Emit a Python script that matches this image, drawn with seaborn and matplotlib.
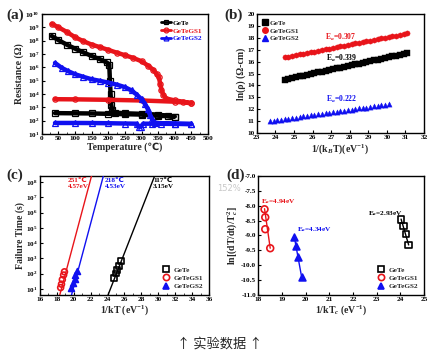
import numpy as np
import pandas as pd
import matplotlib
matplotlib.use('Agg')
import matplotlib.pyplot as plt
import seaborn as sns
from matplotlib.lines import Line2D
from matplotlib.ticker import LogLocator, MultipleLocator, NullLocator, FormatStrFormatter

# ---------------- data ----------------
# (a) resistance vs temperature (heating then cooling)
gete_T = [30, 50, 75, 100, 125, 150, 175, 195, 203, 205, 207, 209, 212, 220, 250, 300, 350, 380, 400,
          400, 350, 300, 250, 200, 150, 100, 40]
gete_R = [2.2e8, 1.1e8, 5.0e7, 2.5e7, 1.3e7, 7.0e6, 4.0e6, 2.3e6, 1.6e6, 1.0e5, 1.0e4, 1.5e3, 6.0e2, 4.0e2,
          3.5e2, 3.2e2, 2.8e2, 2.2e2, 2.0e2, 2.0e2, 2.3e2, 2.8e2, 3.0e2, 3.2e2, 3.4e2, 3.5e2, 3.6e2]
gs1_T = [30, 50, 75, 100, 125, 150, 175, 200, 225, 250, 275, 300, 320, 335, 345, 352, 356, 360, 366, 375,
         400, 425, 450, 450, 400, 300, 200, 100, 40]
gs1_R = [1.8e9, 1.0e9, 4.5e8, 1.8e8, 9e7, 5e7, 3.2e7, 2e7, 1.25e7, 8e6, 5e6, 2.8e6, 1.3e6, 6.5e5, 3.2e5,
         1.8e5, 6e4, 2e4, 8e3, 4.5e3, 3.2e3, 2.6e3, 2e3, 2e3, 2.6e3, 3.2e3, 3.6e3, 3.9e3, 4e3]
gs2_T = [40, 60, 80, 100, 125, 150, 175, 200, 225, 250, 270, 285, 300, 310, 318, 325, 332, 340, 360, 400,
         450, 450, 400, 330, 305, 298, 292, 285, 250, 200, 150, 100, 40]
gs2_R = [2.1e6, 9e5, 5e5, 3e5, 1.9e5, 1.25e5, 9.5e4, 7e4, 5e4, 3.2e4, 1.8e4, 9e3, 4e3, 1.8e3, 8e2, 2.8e2,
         1.25e2, 7e1, 6e1, 5.8e1, 5.5e1, 5.5e1, 5.6e1, 5.8e1, 5.8e1, 3.5e1, 3.5e1, 5.8e1, 6e1, 6.3e1,
         6.5e1, 6.6e1, 6.6e1]

# (b) ln(rho) vs 1/kT
b_gete_x = [24.5, 24.7, 24.9, 25.1, 25.3, 25.5, 25.7, 25.9, 26.1, 26.3, 26.5, 26.7, 26.9, 27.1, 27.3, 27.5, 27.7,
            27.9, 28.1, 28.3, 28.5, 28.7, 28.9, 29.1, 29.3, 29.5, 29.7, 29.9, 30.1, 30.3, 30.5, 30.7, 30.9, 31.1]
b_gete_y = [14.50, 14.57, 14.63, 14.70, 14.77, 14.83, 14.90, 14.97, 15.03, 15.10, 15.17, 15.23, 15.30, 15.37,
            15.43, 15.50, 15.57, 15.63, 15.70, 15.77, 15.83, 15.90, 15.97, 16.03, 16.10, 16.17, 16.23, 16.30,
            16.37, 16.43, 16.50, 16.57, 16.63, 16.70]
b_gs1_x = b_gete_x
b_gs1_y = [16.35, 16.41, 16.47, 16.53, 16.60, 16.66, 16.72, 16.78, 16.84, 16.90, 16.96, 17.03, 17.09, 17.15,
           17.21, 17.27, 17.33, 17.39, 17.46, 17.52, 17.58, 17.64, 17.70, 17.76, 17.82, 17.89, 17.95, 18.01,
           18.07, 18.13, 18.19, 18.25, 18.31, 18.38]
b_gs2_x = [23.7, 23.9, 24.1, 24.3, 24.5, 24.7, 24.9, 25.1, 25.3, 25.5, 25.7, 25.9, 26.1, 26.3, 26.5, 26.7, 26.9,
           27.1, 27.3, 27.5, 27.7, 27.9, 28.1, 28.3, 28.5, 28.7, 28.9, 29.1, 29.3, 29.5, 29.7, 29.9, 30.1]
b_gs2_y = [11.00, 11.04, 11.09, 11.13, 11.18, 11.22, 11.27, 11.31, 11.36, 11.40, 11.44, 11.49, 11.53, 11.58,
           11.62, 11.67, 11.71, 11.75, 11.80, 11.84, 11.89, 11.93, 11.98, 12.02, 12.07, 12.11, 12.15, 12.20,
           12.24, 12.29, 12.33, 12.38, 12.42]

# (c) failure time vs 1/kT
c_gete_x = [24.75, 24.95, 25.15, 25.4, 25.6]
c_gete_y = [50, 100, 160, 300, 650]
c_gs1_x = [18.45, 18.55, 18.65, 18.8, 18.9]
c_gs1_y = [12, 20, 40, 80, 130]
c_gs2_x = [19.7, 19.9, 20.1, 20.2, 20.4]
c_gs2_y = [12, 25, 45, 80, 150]
c_fit_gete_x = [23.99, 29.64]
c_fit_gs1_x = [18.30, 22.15]
c_fit_gs2_x = [19.69, 23.55]
c_fit_y = [3.16, 3.16e8]

# (d) Kissinger
d_gete_x = [24.03, 24.14, 24.24, 24.35]
d_gete_y = [-8.46, -8.68, -8.95, -9.32]
d_gs1_x = [18.27, 18.30, 18.30, 18.51]
d_gs1_y = [-8.12, -8.39, -8.79, -9.43]
d_gs2_x = [19.52, 19.60, 19.70, 19.84]
d_gs2_y = [-9.04, -9.35, -9.73, -10.40]
d_fit_gete = ([24.03, 24.35], [-8.45, -9.32])
d_fit_gs1 = ([18.27, 18.51], [-8.10, -9.43])
d_fit_gs2 = ([19.52, 19.84], [-9.02, -10.42])

names = ['GeTe', 'GeTeGS1', 'GeTeGS2']
RED = '#e8141a'
BLUE = '#1010f0'
BLK = 'black'
colors = [BLK, RED, BLUE]

# ---------------- style ----------------
sns.set_style('ticks')
plt.rcParams['font.family'] = ['Liberation Serif', 'DejaVu Sans']
plt.rcParams['font.weight'] = 'bold'
plt.rcParams['axes.labelweight'] = 'bold'
plt.rcParams['mathtext.fontset'] = 'custom'
plt.rcParams['mathtext.rm'] = 'Liberation Serif:bold'
plt.rcParams['mathtext.it'] = 'Liberation Serif:italic:bold'
plt.rcParams['mathtext.bf'] = 'Liberation Serif:bold'
plt.rcParams['axes.linewidth'] = 1.0
plt.rcParams['axes.edgecolor'] = 'black'

TICK = 5.2
LAB = 7.0

fig = plt.figure(figsize=(4.39, 3.57), dpi=100)

def style_ax(ax):
    ax.tick_params(direction='in', labelsize=TICK, length=2.5, width=0.8, pad=1.5, colors='black',
                   top=False, right=False)
    ax.tick_params(which='minor', direction='in', length=1.5, width=0.6, top=False, right=False)
    for s in ax.spines.values():
        s.set_linewidth(1.0)
        s.set_color('black')

# ---------------- (a) ----------------
axa = fig.add_axes([0.095, 0.625, 0.379, 0.336])
series_a = [(gete_T, gete_R, 's'), (gs1_T, gs1_R, 'o'), (gs2_T, gs2_R, '^')]
for (T, R, m), c, n in zip(series_a, colors, names):
    df = pd.DataFrame({'T': T, 'R': R})
    sns.lineplot(data=df, x='T', y='R', ax=axa, sort=False, estimator=None, color=c, lw=3.2,
                 marker=m, markersize=3.8, markerfacecolor='none', markeredgecolor=c, markeredgewidth=0.9)
axa.set_yscale('log')
axa.set_xlim(0, 500)
axa.set_ylim(1e1, 1e10)
axa.xaxis.set_major_locator(MultipleLocator(50))
axa.xaxis.set_minor_locator(MultipleLocator(25))
axa.yaxis.set_major_locator(LogLocator(base=10, numticks=20))
axa.yaxis.set_minor_locator(NullLocator())
axa.set_xlabel('Temperature (℃)', fontsize=LAB, labelpad=1)
axa.set_ylabel('Resistance (Ω)', fontsize=LAB, labelpad=1)
style_ax(axa)
hs = [Line2D([], [], color=c, lw=2, marker=m, ms=3.5, mfc='none', mec=c, mew=0.9)
      for c, m in zip(colors, ['s', 'o', '^'])]
leg = axa.legend(hs, names, loc='upper right', frameon=False, fontsize=5.2, handlelength=1.4,
                 handletextpad=0.2, labelspacing=0.25, borderaxespad=0.4)
for t, c in zip(leg.get_texts(), colors):
    t.set_color(c)

# ---------------- (b) ----------------
axb = fig.add_axes([0.585, 0.627, 0.381, 0.334])
series_b = [(b_gete_x, b_gete_y, 's'), (b_gs1_x, b_gs1_y, 'o'), (b_gs2_x, b_gs2_y, '^')]
for (x, y, m), c, n in zip(series_b, colors, names):
    df = pd.DataFrame({'x': x, 'y': y})
    sns.scatterplot(data=df, x='x', y='y', ax=axb, color=c, marker=m, s=14, linewidth=0.3,
                    edgecolor=c)
axb.set_xlim(23, 32)
axb.set_ylim(10, 20)
axb.xaxis.set_major_locator(MultipleLocator(1))
axb.yaxis.set_major_locator(MultipleLocator(1))
axb.set_xlabel('1/(k$_B$T)(eV$^{-1}$)', fontsize=LAB, labelpad=1)
axb.set_ylabel('ln(ρ) (Ω-cm)', fontsize=LAB, labelpad=1)
style_ax(axb)
hs = [Line2D([], [], ls='none', color=c, marker=m, ms=4, mec=c) for c, m in zip(colors, ['s', 'o', '^'])]
axb.legend(hs, names, loc='upper left', frameon=False, fontsize=5.2, handlelength=0.8,
           handletextpad=0.2, labelspacing=0.25, borderaxespad=0.4)
axb.text(26.65, 18.0, 'E$_a$=0.307', color=RED, fontsize=5.5, va='center')
axb.text(26.7, 16.3, 'E$_a$=0.339', color=BLK, fontsize=5.5, va='center')
axb.text(26.7, 12.85, 'E$_a$=0.222', color=BLUE, fontsize=5.5, va='center')

# ---------------- (c) ----------------
axc = fig.add_axes([0.091, 0.174, 0.385, 0.333])
for fx, c in zip([c_fit_gete_x, c_fit_gs1_x, c_fit_gs2_x], colors):
    sns.lineplot(x=fx, y=c_fit_y, ax=axc, color=c, lw=1.0, estimator=None, sort=False, zorder=3)
series_c = [(c_gete_x, c_gete_y, 's', 'none'), (c_gs1_x, c_gs1_y, 'o', 'none'), (c_gs2_x, c_gs2_y, '^', None)]
for (x, y, m, fc), c in zip(series_c, colors):
    df = pd.DataFrame({'x': x, 'y': y})
    sns.scatterplot(data=df, x='x', y='y', ax=axc, marker=m, s=18,
                    facecolor=(fc if fc else c), edgecolor=c, linewidth=1.2, zorder=2)
axc.set_yscale('log')
axc.set_xlim(16, 36)
axc.set_ylim(10 ** 0.6, 10 ** 8.4)
axc.xaxis.set_major_locator(MultipleLocator(2))
axc.xaxis.set_minor_locator(MultipleLocator(1))
axc.yaxis.set_major_locator(LogLocator(base=10, numticks=20))
axc.yaxis.set_minor_locator(NullLocator())
axc.set_xlabel('1/kT (eV$^{-1}$)', fontsize=LAB, labelpad=1)
axc.set_ylabel('Failure Time (s)', fontsize=LAB, labelpad=1)
style_ax(axc)
hs = [Line2D([], [], ls='none', color=c, marker=m, ms=4.5, mfc=fc, mec=c, mew=1.2)
      for c, m, fc in zip(colors, ['s', 'o', '^'], ['none', 'none', BLUE])]
axc.legend(hs, names, loc='lower right', frameon=False, fontsize=5.2, handlelength=1.0,
           handletextpad=0.5, labelspacing=0.3, borderaxespad=0.4)
axc.text(19.3, 10 ** 8.25, '251℃\n4.57eV', color=RED, fontsize=5.2, va='top', linespacing=1.1)
axc.text(23.7, 10 ** 8.25, '218℃\n4.53eV', color=BLUE, fontsize=5.2, va='top', linespacing=1.1)
axc.text(29.4, 10 ** 8.25, '117℃\n3.15eV', color=BLK, fontsize=5.2, va='top', linespacing=1.1)

# ---------------- (d) ----------------
axd = fig.add_axes([0.588, 0.174, 0.378, 0.333])
for (fx, fy), c in zip([d_fit_gete, d_fit_gs1, d_fit_gs2], colors):
    sns.lineplot(x=fx, y=fy, ax=axd, color=c, lw=1.0, estimator=None, sort=False, zorder=3)
series_d = [(d_gete_x, d_gete_y, 's', 'none'), (d_gs1_x, d_gs1_y, 'o', 'none'), (d_gs2_x, d_gs2_y, '^', None)]
for (x, y, m, fc), c in zip(series_d, colors):
    df = pd.DataFrame({'x': x, 'y': y})
    sns.scatterplot(data=df, x='x', y='y', ax=axd, marker=m, s=24,
                    facecolor=(fc if fc else c), edgecolor=c, linewidth=1.2, zorder=2)
axd.set_xlim(18, 25)
axd.set_ylim(-11, -7)
axd.xaxis.set_major_locator(MultipleLocator(1))
axd.yaxis.set_major_locator(MultipleLocator(0.5))
axd.yaxis.set_major_formatter(FormatStrFormatter('%.1f'))
axd.set_xlabel('1/kT$_c$ (eV$^{-1}$)', fontsize=LAB, labelpad=1)
axd.set_ylabel('ln[(dT/dt)/T$_c^2$]', fontsize=LAB, labelpad=1)
style_ax(axd)
hs = [Line2D([], [], ls='none', color=c, marker=m, ms=4.5, mfc=fc, mec=c, mew=1.2)
      for c, m, fc in zip(colors, ['s', 'o', '^'], ['none', 'none', BLUE])]
axd.legend(hs, names, loc='lower right', frameon=False, fontsize=5.2, handlelength=1.0,
           handletextpad=0.5, labelspacing=0.3, borderaxespad=0.4)
axd.text(18.1, -7.86, 'E$_a$=4.94eV', color=RED, fontsize=5.2, va='center')
axd.text(19.62, -8.79, 'E$_a$=4.34eV', color=BLUE, fontsize=5.2, va='center')
axd.text(22.65, -8.25, 'E$_a$=2.93eV', color=BLK, fontsize=5.2, va='center')

# ---------------- labels / caption ----------------
fig.text(0.015, 0.958, '(a)', fontsize=11, fontweight='bold', va='center')
fig.text(0.512, 0.958, '(b)', fontsize=11, fontweight='bold', va='center')
fig.text(0.015, 0.508, '(c)', fontsize=11, fontweight='bold', va='center')
fig.text(0.515, 0.508, '(d)', fontsize=11, fontweight='bold', va='center')
fig.text(0.495, 0.473, '152%', fontsize=6, color='#c8c8c8', fontweight='normal',
         family=['DejaVu Sans'], va='center')
fig.text(0.5, 0.037, '↑ 实验数据 ↑', fontsize=9.5, color='#222222', fontweight='normal',
         family=['Noto Sans CJK SC', 'DejaVu Sans'], ha='center', va='center')

fig.savefig('out.png', dpi=100)
